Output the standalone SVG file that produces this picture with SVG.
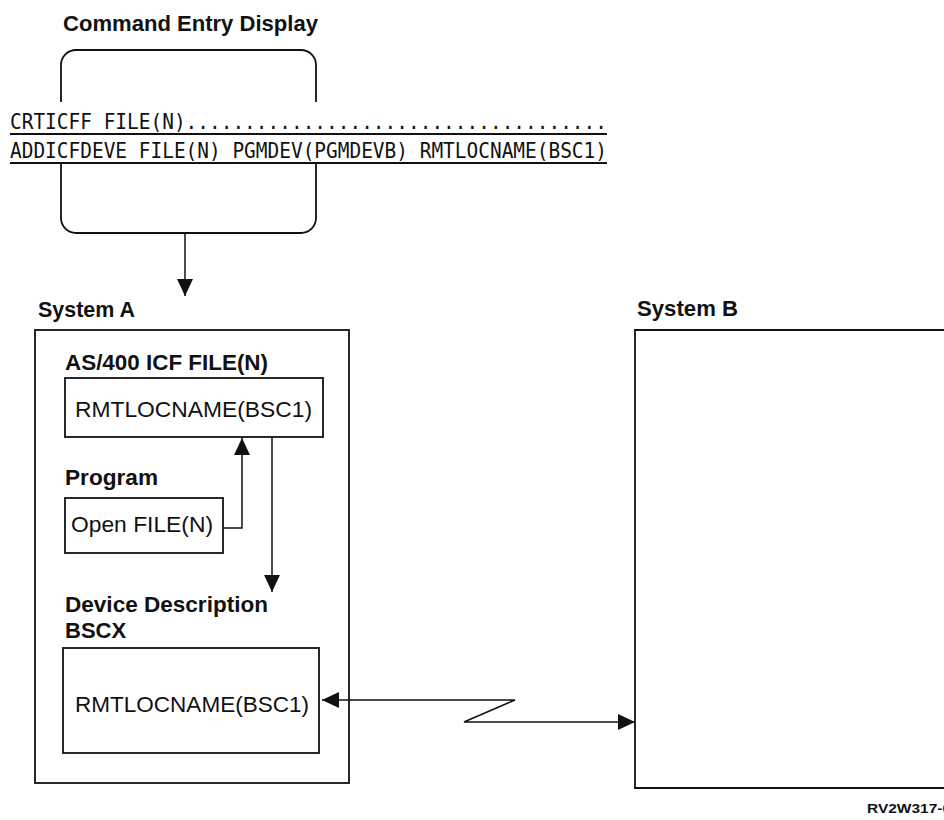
<svg xmlns="http://www.w3.org/2000/svg" width="944" height="820" viewBox="0 0 944 820">
  <style>
    .lbl { font-family: "Liberation Sans", Arial, sans-serif; font-weight: bold; font-size: 22px; fill: #111; }
    .txt { font-family: "Liberation Sans", Arial, sans-serif; font-size: 22px; fill: #111; }
    .cmd { font-family: "DejaVu Sans Mono", "Liberation Mono", monospace; font-size: 22px; fill: #111; }
    .box { fill: none; stroke: #111; stroke-width: 1.8; }
    .conn { fill: none; stroke: #111; stroke-width: 1.5; }
    .tag { font-family: "Liberation Sans", Arial, sans-serif; font-weight: bold; font-size: 13px; fill: #111; }
  </style>
  <defs>
    <marker id="ah" markerUnits="userSpaceOnUse" markerWidth="17" markerHeight="16" refX="17" refY="8" orient="auto-start-reverse">
      <path d="M0,0 L17,8 L0,16 z" fill="#111"/>
    </marker>
  </defs>
  <rect width="944" height="820" fill="#fff"/>

  <g id="command-entry-display">
    <text class="lbl" x="63" y="31" textLength="255" lengthAdjust="spacingAndGlyphs">Command Entry Display</text>
    <path class="box" d="M61,102 V65 A15,15 0 0 1 76,50 H301 A15,15 0 0 1 316,65 V102"/>
    <path class="box" d="M61,163 V218 A15,15 0 0 0 76,233 H301 A15,15 0 0 0 316,218 V163"/>
    <text class="cmd" x="10" y="129" textLength="597" lengthAdjust="spacingAndGlyphs">CRTICFF FILE(N)....................................</text>
    <line class="box" x1="10" y1="134" x2="607" y2="134"/>
    <text class="cmd" x="10" y="158" textLength="597" lengthAdjust="spacingAndGlyphs">ADDICFDEVE FILE(N) PGMDEV(PGMDEVB) RMTLOCNAME(BSC1)</text>
    <line class="box" x1="10" y1="163" x2="607" y2="163"/>
  </g>

  <g id="system-a">
    <text class="lbl" x="38" y="317" font-size="21" textLength="97" lengthAdjust="spacingAndGlyphs">System A</text>
    <rect class="box" x="35" y="330" width="314" height="453"/>
  </g>

  <g id="icf-file">
    <text class="lbl" x="65" y="370" textLength="203" lengthAdjust="spacingAndGlyphs">AS/400 ICF FILE(N)</text>
    <rect class="box" x="65" y="378" width="258" height="59"/>
    <text class="txt" x="75" y="417" textLength="237" lengthAdjust="spacingAndGlyphs">RMTLOCNAME(BSC1)</text>
  </g>

  <g id="program">
    <text class="lbl" x="65" y="485" textLength="93" lengthAdjust="spacingAndGlyphs">Program</text>
    <rect class="box" x="65" y="498" width="158" height="55"/>
    <text class="txt" x="71" y="532" textLength="142" lengthAdjust="spacingAndGlyphs">Open FILE(N)</text>
  </g>

  <g id="device-description">
    <text class="lbl" x="65" y="612" textLength="203" lengthAdjust="spacingAndGlyphs">Device Description</text>
    <text class="lbl" x="65" y="638">BSCX</text>
    <rect class="box" x="63" y="648" width="256" height="105"/>
    <text class="txt" x="75" y="712" textLength="234" lengthAdjust="spacingAndGlyphs">RMTLOCNAME(BSC1)</text>
  </g>

  <g id="system-b">
    <text class="lbl" x="637" y="316" font-size="21" textLength="101" lengthAdjust="spacingAndGlyphs">System B</text>
    <path class="box" d="M950,330 H635 V788 H950"/>
  </g>

  <g id="connectors">
    <path class="conn" d="M185,233 V296" marker-end="url(#ah)"/>
    <path class="conn" d="M223,528 H242 V438" marker-end="url(#ah)"/>
    <path class="conn" d="M272,437 V592" marker-end="url(#ah)"/>
    <path class="conn" d="M322,700 H515 L464,722 H635" marker-start="url(#ah)" marker-end="url(#ah)"/>
  </g>

  <text class="tag" x="867" y="813" textLength="84" lengthAdjust="spacingAndGlyphs">RV2W317-0</text>
</svg>
